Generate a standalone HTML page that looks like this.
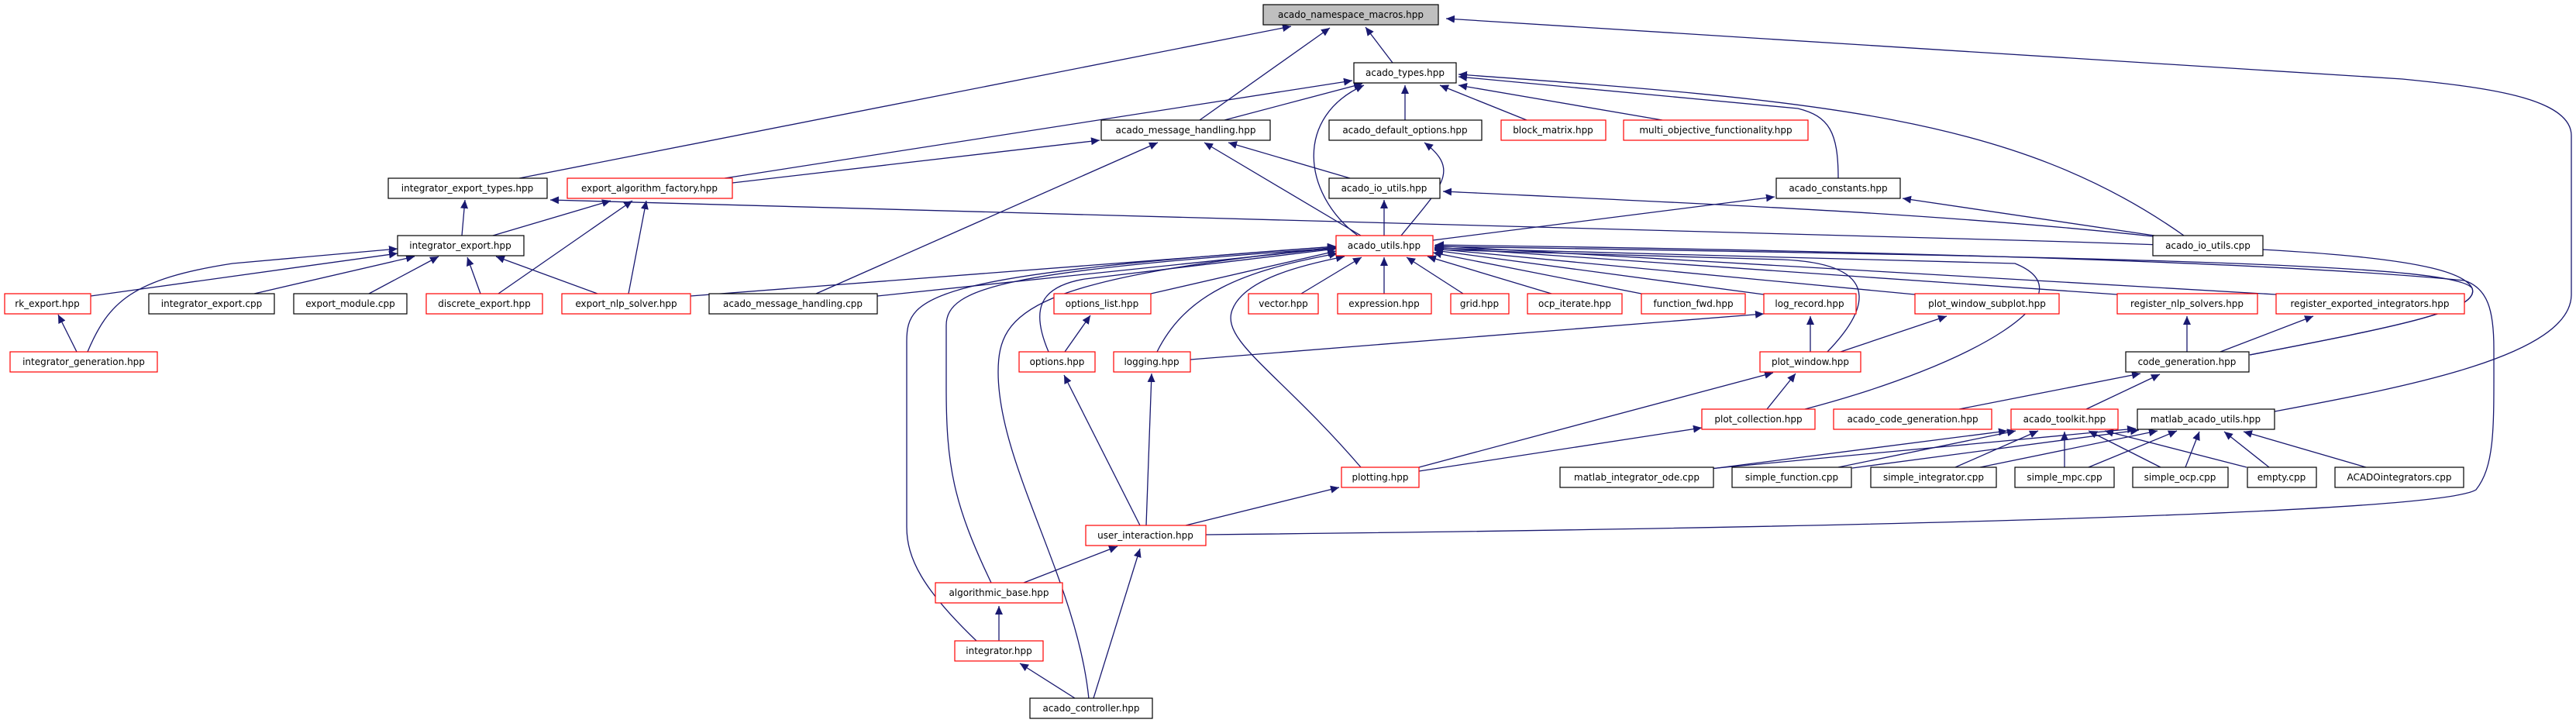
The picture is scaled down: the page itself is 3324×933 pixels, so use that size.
<!DOCTYPE html>
<html><head><meta charset="utf-8"><style>
html,body{margin:0;padding:0;background:#fff}
svg{display:block}
text{font-family:"DejaVu Sans","Liberation Sans",sans-serif;font-size:12px;fill:#000;text-anchor:middle}
.e{fill:none;stroke:#191970;stroke-width:1.3;marker-end:url(#a)}
.b{fill:#fff;stroke:#000;stroke-width:1.2}
.r{fill:#fff;stroke:#ff0000;stroke-width:1.2}
</style></head><body>
<svg width="3324" height="933" viewBox="0 0 3324 933" xmlns="http://www.w3.org/2000/svg">
<defs><marker id="a" markerUnits="userSpaceOnUse" markerWidth="12" markerHeight="10" refX="11" refY="5" orient="auto"><path d="M0,0 L11,5 L0,10 Z" fill="#191970"/></marker></defs>
<g>
<path class="e" d="M1797,81 L1762,35"/>
<path class="e" d="M1548,155 L1716,36"/>
<path class="e" d="M670,230 L1666,34"/>
<path class="e" d="M2935,531 C3100,500 3318,460 3318,380 L3318,175 C3318,125 3200,112 3100,102 L1866,24"/>
<path class="e" d="M1580,155 L1758,108"/>
<path class="e" d="M935,230 L1745,104"/>
<path class="e" d="M945,236 L1419,181"/>
<path class="e" d="M1752,304 C1680,250 1670,150 1760,110"/>
<path class="e" d="M1813,155 L1813,110"/>
<path class="e" d="M1970,155 L1858,110"/>
<path class="e" d="M2145,155 L1882,110"/>
<path class="e" d="M2372,230 C2372,170 2360,150 2320,140 L1882,99"/>
<path class="e" d="M2818,304 C2600,150 2350,130 1882,96"/>
<path class="e" d="M1742,230 L1585,184"/>
<path class="e" d="M1756,304 L1554,184"/>
<path class="e" d="M1053,379 L1494,184"/>
<path class="e" d="M1808,304 C1860,240 1885,220 1838,184"/>
<path class="e" d="M1786,304 L1786,258"/>
<path class="e" d="M2778,305 C2500,275 2200,263 1862,247"/>
<path class="e" d="M1849,310 L2290,254"/>
<path class="e" d="M2780,304 L2455,256"/>
<path class="e" d="M596,304 L600,258"/>
<path class="e" d="M2903,458 C3100,420 3200,400 3190,372 C3170,330 2950,320 2600,310 L710,258"/>
<path class="e" d="M2903,458 C3100,420 3200,400 3190,372 C3170,345 2900,334 1852,318"/>
<path class="e" d="M1556,690 C2500,680 3150,660 3195,632 C3220,600 3218,550 3218,450 C3218,400 3210,372 3180,362 C2900,335 2300,322 1852,316"/>
<path class="e" d="M636,304 L788,259"/>
<path class="e" d="M643,379 L816,259"/>
<path class="e" d="M811,379 L834,259"/>
<path class="e" d="M117,382 L513,327"/>
<path class="e" d="M113,454 C140,390 170,360 300,340 L513,321"/>
<path class="e" d="M328,379 L535,331"/>
<path class="e" d="M476,379 L566,331"/>
<path class="e" d="M620,379 L603,332"/>
<path class="e" d="M771,379 L640,331"/>
<path class="e" d="M99,454 L75,406"/>
<path class="e" d="M891,382 L1724,318"/>
<path class="e" d="M1132,382 L1724,320"/>
<path class="e" d="M1485,379 L1724,324"/>
<path class="e" d="M1679,379 L1757,332"/>
<path class="e" d="M1786,379 L1786,332"/>
<path class="e" d="M1888,379 L1815,332"/>
<path class="e" d="M2002,379 L1842,331"/>
<path class="e" d="M2118,379 L1849,326"/>
<path class="e" d="M2276,380 L1851,323"/>
<path class="e" d="M2471,380 L1851,321"/>
<path class="e" d="M2732,380 L1851,319"/>
<path class="e" d="M2937,380 L1851,317"/>
<path class="e" d="M1353,454 C1330,400 1340,370 1400,360 L1724,321"/>
<path class="e" d="M1493,454 C1530,380 1600,350 1726,327"/>
<path class="e" d="M1756,603 C1650,480 1575,440 1590,400 C1605,360 1680,342 1735,331"/>
<path class="e" d="M2358,454 C2420,390 2420,340 2300,335 L1851,322"/>
<path class="e" d="M2329,528 C2550,470 2700,380 2600,340 L1851,320"/>
<path class="e" d="M1279,752 C1230,650 1221,600 1221,500 L1221,420 C1221,370 1300,350 1724,320"/>
<path class="e" d="M1260,827 C1190,760 1170,720 1170,680 L1170,440 C1170,380 1200,355 1724,318"/>
<path class="e" d="M1405,902 C1390,750 1288,600 1288,480 C1288,400 1330,360 1724,319"/>
<path class="e" d="M1374,454 L1407,407"/>
<path class="e" d="M1536,464 L2276,405"/>
<path class="e" d="M2336,454 L2336,408"/>
<path class="e" d="M2375,454 L2512,408"/>
<path class="e" d="M1831,603 L2288,481"/>
<path class="e" d="M1831,608 L2196,552"/>
<path class="e" d="M2280,528 L2317,482"/>
<path class="e" d="M1471,678 L1373,484"/>
<path class="e" d="M1479,678 L1486,482"/>
<path class="e" d="M1530,678 L1728,629"/>
<path class="e" d="M1321,752 L1442,705"/>
<path class="e" d="M1289,827 L1289,782"/>
<path class="e" d="M1387,901 L1316,856"/>
<path class="e" d="M1411,901 L1471,708"/>
<path class="e" d="M2822,454 L2822,408"/>
<path class="e" d="M2865,454 L2985,408"/>
<path class="e" d="M2528,528 L2762,482"/>
<path class="e" d="M2692,528 L2787,483"/>
<path class="e" d="M2200,606 L2590,556"/>
<path class="e" d="M2205,605 L2756,553"/>
<path class="e" d="M2372,603 L2601,556"/>
<path class="e" d="M2390,604 L2760,555"/>
<path class="e" d="M2523,603 L2630,556"/>
<path class="e" d="M2555,603 L2784,556"/>
<path class="e" d="M2664,603 L2664,557"/>
<path class="e" d="M2695,603 L2809,556"/>
<path class="e" d="M2788,603 L2695,556"/>
<path class="e" d="M2820,603 L2838,557"/>
<path class="e" d="M2899,603 L2716,556"/>
<path class="e" d="M2928,603 L2870,557"/>
<path class="e" d="M3053,603 L2895,557"/>
</g>
<g>
<rect x="1630" y="6" width="226" height="26" fill="#bfbfbf" stroke="#000" stroke-width="1.2"/><text x="1743" y="23">acado_namespace_macros.hpp</text>
<rect class="b" x="1747" y="81" width="132" height="26"/><text x="1813" y="98">acado_types.hpp</text>
<rect class="b" x="1421" y="155" width="218" height="26"/><text x="1530" y="172">acado_message_handling.hpp</text>
<rect class="b" x="1715" y="155" width="197" height="26"/><text x="1813" y="172">acado_default_options.hpp</text>
<rect class="r" x="1937" y="155" width="135" height="26"/><text x="2004" y="172">block_matrix.hpp</text>
<rect class="r" x="2095" y="155" width="238" height="26"/><text x="2214" y="172">multi_objective_functionality.hpp</text>
<rect class="b" x="501" y="230" width="205" height="26"/><text x="603" y="247">integrator_export_types.hpp</text>
<rect class="r" x="732" y="230" width="213" height="26"/><text x="838" y="247">export_algorithm_factory.hpp</text>
<rect class="b" x="1715" y="230" width="143" height="26"/><text x="1786" y="247">acado_io_utils.hpp</text>
<rect class="b" x="2292" y="230" width="160" height="26"/><text x="2372" y="247">acado_constants.hpp</text>
<rect class="b" x="513" y="304" width="163" height="26"/><text x="594" y="321">integrator_export.hpp</text>
<rect class="r" x="1724" y="304" width="125" height="26"/><text x="1786" y="321">acado_utils.hpp</text>
<rect class="b" x="2778" y="304" width="142" height="26"/><text x="2849" y="321">acado_io_utils.cpp</text>
<rect class="r" x="6" y="379" width="111" height="26"/><text x="61" y="396">rk_export.hpp</text>
<rect class="b" x="192" y="379" width="162" height="26"/><text x="273" y="396">integrator_export.cpp</text>
<rect class="b" x="379" y="379" width="146" height="26"/><text x="452" y="396">export_module.cpp</text>
<rect class="r" x="550" y="379" width="150" height="26"/><text x="625" y="396">discrete_export.hpp</text>
<rect class="r" x="725" y="379" width="166" height="26"/><text x="808" y="396">export_nlp_solver.hpp</text>
<rect class="b" x="915" y="379" width="217" height="26"/><text x="1023" y="396">acado_message_handling.cpp</text>
<rect class="r" x="1360" y="379" width="125" height="26"/><text x="1422" y="396">options_list.hpp</text>
<rect class="r" x="1611" y="379" width="90" height="26"/><text x="1656" y="396">vector.hpp</text>
<rect class="r" x="1726" y="379" width="121" height="26"/><text x="1786" y="396">expression.hpp</text>
<rect class="r" x="1872" y="379" width="75" height="26"/><text x="1909" y="396">grid.hpp</text>
<rect class="r" x="1971" y="379" width="122" height="26"/><text x="2032" y="396">ocp_iterate.hpp</text>
<rect class="r" x="2118" y="379" width="134" height="26"/><text x="2185" y="396">function_fwd.hpp</text>
<rect class="r" x="2276" y="379" width="119" height="26"/><text x="2335" y="396">log_record.hpp</text>
<rect class="r" x="2471" y="379" width="186" height="26"/><text x="2564" y="396">plot_window_subplot.hpp</text>
<rect class="r" x="2732" y="379" width="181" height="26"/><text x="2822" y="396">register_nlp_solvers.hpp</text>
<rect class="r" x="2937" y="379" width="243" height="26"/><text x="3058" y="396">register_exported_integrators.hpp</text>
<rect class="r" x="13" y="454" width="190" height="26"/><text x="108" y="471">integrator_generation.hpp</text>
<rect class="r" x="1315" y="454" width="98" height="26"/><text x="1364" y="471">options.hpp</text>
<rect class="r" x="1437" y="454" width="99" height="26"/><text x="1486" y="471">logging.hpp</text>
<rect class="r" x="2271" y="454" width="130" height="26"/><text x="2336" y="471">plot_window.hpp</text>
<rect class="b" x="2743" y="454" width="159" height="26"/><text x="2822" y="471">code_generation.hpp</text>
<rect class="r" x="2196" y="528" width="146" height="26"/><text x="2269" y="545">plot_collection.hpp</text>
<rect class="r" x="2366" y="528" width="204" height="26"/><text x="2468" y="545">acado_code_generation.hpp</text>
<rect class="r" x="2595" y="528" width="138" height="26"/><text x="2664" y="545">acado_toolkit.hpp</text>
<rect class="b" x="2758" y="528" width="177" height="26"/><text x="2846" y="545">matlab_acado_utils.hpp</text>
<rect class="r" x="1731" y="603" width="100" height="26"/><text x="1781" y="620">plotting.hpp</text>
<rect class="b" x="2013" y="603" width="198" height="26"/><text x="2112" y="620">matlab_integrator_ode.cpp</text>
<rect class="b" x="2235" y="603" width="154" height="26"/><text x="2312" y="620">simple_function.cpp</text>
<rect class="b" x="2414" y="603" width="162" height="26"/><text x="2495" y="620">simple_integrator.cpp</text>
<rect class="b" x="2600" y="603" width="128" height="26"/><text x="2664" y="620">simple_mpc.cpp</text>
<rect class="b" x="2752" y="603" width="123" height="26"/><text x="2813" y="620">simple_ocp.cpp</text>
<rect class="b" x="2900" y="603" width="89" height="26"/><text x="2944" y="620">empty.cpp</text>
<rect class="b" x="3013" y="603" width="166" height="26"/><text x="3096" y="620">ACADOintegrators.cpp</text>
<rect class="r" x="1401" y="678" width="155" height="26"/><text x="1478" y="695">user_interaction.hpp</text>
<rect class="r" x="1207" y="752" width="164" height="26"/><text x="1289" y="769">algorithmic_base.hpp</text>
<rect class="r" x="1232" y="827" width="114" height="26"/><text x="1289" y="844">integrator.hpp</text>
<rect class="b" x="1329" y="901" width="158" height="26"/><text x="1408" y="918">acado_controller.hpp</text>
</g>
</svg>
</body></html>
